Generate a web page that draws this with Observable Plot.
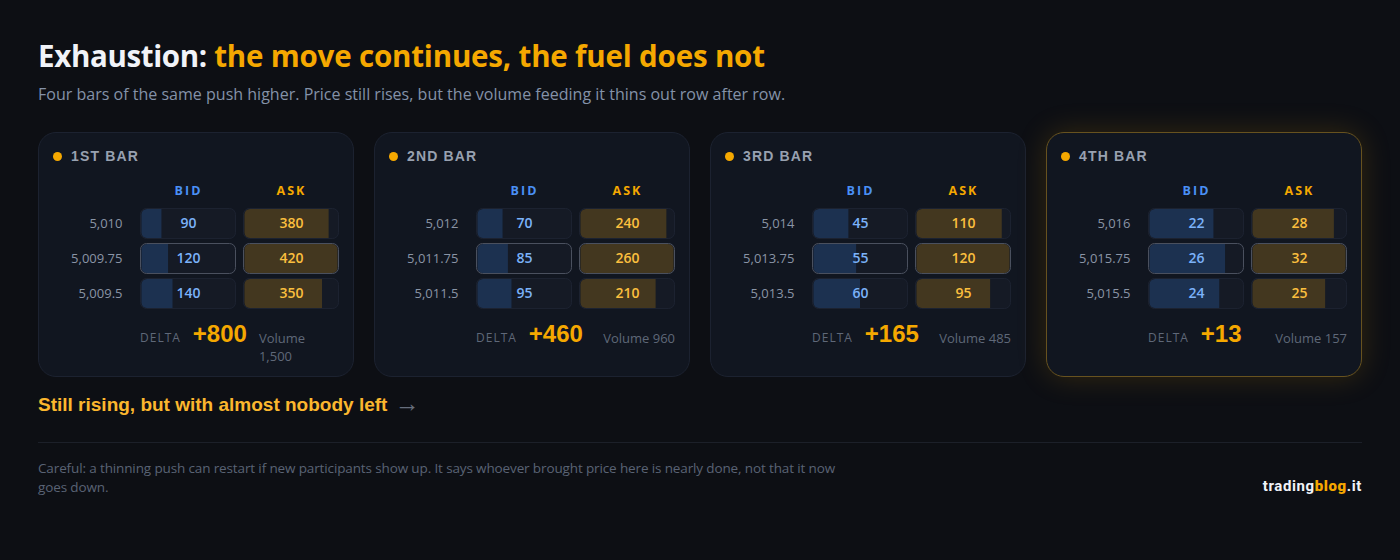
<!DOCTYPE html>
<html lang="en">
<head>
<meta charset="utf-8">
<title>Exhaustion</title>
<script src="https://cdn.jsdelivr.net/npm/d3@7"></script>
<script src="https://cdn.jsdelivr.net/npm/@observablehq/plot@0.6"></script>
<style>
  html, body { margin: 0; padding: 0; background: #0d0f14; width: 1400px; height: 560px; overflow: hidden; }
  body { font-family: "Open Sans", sans-serif; position: relative; }
  h1 { position: absolute; left: 38px; top: 36px; margin: 0; font-size: 29.5px; line-height: 40px; font-weight: 700; color: #f1f3f8; letter-spacing: -0.35px; white-space: nowrap; }
  h1 span { color: #f5a800; letter-spacing: -0.18px; }
  .sub { position: absolute; left: 38px; top: 82px; font-size: 16.05px; line-height: 24px; color: #8492a8; white-space: nowrap; }
  .cards { position: absolute; left: 38px; top: 132px; width: 1324px; display: flex; gap: 20px; align-items: stretch; }
  .card { box-sizing: border-box; width: 316px; height: 245px; padding: 15px; background: #111620; border: 1px solid #1c2230; border-radius: 18px; position: relative; }
  .card.last { border-color: #67521f; box-shadow: 0 0 30px rgba(245,168,0,.17); }
  .head { position: absolute; left: 14px; top: 13px; height: 20px; display: flex; align-items: center; gap: 9px; font: 700 14px "Liberation Sans", sans-serif; letter-spacing: 1.15px; color: #98a1b0; }
  .dot { width: 9px; height: 9px; border-radius: 50%; background: #f5a800; }
  .plot { position: absolute; left: 14px; top: 46px; }
  .foot { position: absolute; left: 101px; right: 14px; top: 186px; display: flex; align-items: flex-start; justify-content: space-between; column-gap: 12px; }
  .dl { font-size: 12px; line-height: 18px; letter-spacing: 1px; color: #5f6878; margin-top: 10px; white-space: nowrap; }
  .dv { font: 700 24px/30px "Liberation Sans", sans-serif; color: #f5a800; white-space: nowrap; }
  .vol { flex: 0 1 auto; font-size: 13px; line-height: 18px; color: #5f6878; margin-top: 10px; min-width: 0; }
  .left { display: flex; column-gap: 12px; flex: none; }
  .take { position: absolute; left: 38px; top: 393px; height: 24px; font: 700 19px/24px "Liberation Sans", sans-serif; color: #fbb72e; white-space: nowrap; }
  .take i { font-style: normal; font-weight: 400; font-size: 25px; line-height: 0; color: #666e7d; margin-left: 2px; vertical-align: -1px; }
  hr { position: absolute; left: 38px; top: 442px; width: 1324px; margin: 0; border: 0; height: 1px; background: #1c2029; }
  .note { position: absolute; left: 38px; top: 459px; width: 820px; font-size: 13.5px; letter-spacing: -0.13px; line-height: 19px; color: #5a6374; }
  .brand { position: absolute; right: 38px; top: 476px; font: 700 15px/20px Roboto, sans-serif; letter-spacing: .6px; color: #f1f3f8; }
  .brand b { color: #f5a800; }
</style>
</head>
<body>
<h1>Exhaustion: <span>the move continues, the fuel does not</span></h1>
<div class="sub">Four bars of the same push higher. Price still rises, but the volume feeding it thins out row after row.</div>
<div class="cards" id="cards"></div>
<div class="take">Still rising, but with almost nobody left <i>→</i></div>
<hr>
<div class="note">Careful: a thinning push can restart if new participants show up. It says whoever brought price here is nearly done, not that it now goes down.</div>
<div class="brand">trading<b>blog</b>.it</div>
<script>
const barNames = ["1ST BAR", "2ND BAR", "3RD BAR", "4TH BAR"];
const sides = ["BID", "ASK"];
const priceLabels = [
  ["5,010", "5,009.75", "5,009.5"],
  ["5,012", "5,011.75", "5,011.5"],
  ["5,014", "5,013.75", "5,013.5"],
  ["5,016", "5,015.75", "5,015.5"]
];
const bidValues = [[90, 120, 140], [70, 85, 95], [45, 55, 60], [22, 26, 24]];
const askValues = [[380, 420, 350], [240, 260, 210], [110, 120, 95], [28, 32, 25]];
const deltaLabels = ["+800", "+460", "+165", "+13"];
const volumeLabels = ["Volume 1,500", "Volume 960", "Volume 485", "Volume 157"];

const C = {
  font: '"Open Sans", sans-serif',
  bidHead: "#4a90f5", askHead: "#f5a800",
  bidFill: "#1c3150", askFill: "#43371f",
  bidText: "#7bb2f9", askText: "#fbbf3e",
  track: "#151a25", edge: "#1c2230", hot: "#4a505e", price: "#8a94a5"
};

const host = document.getElementById("cards");

barNames.forEach((name, i) => {
  const rows = priceLabels[i].flatMap((price, r) => [
    {price, r, side: "BID", value: bidValues[i][r]},
    {price, r, side: "ASK", value: askValues[i][r]}
  ]);
  const max = d3.max(rows, d => d.value);
  const full = rows.filter(d => d.value === max);
  const partial = rows.filter(d => d.value !== max);
  const fillOf = d => d.side === "BID" ? C.bidFill : C.askFill;

  const chart = Plot.plot({
    width: 286, height: 131,
    marginLeft: 87, marginRight: 0, marginTop: 28, marginBottom: 0,
    style: {background: "transparent", fontFamily: C.font, overflow: "visible"},
    x: {axis: null, domain: [0, max], insetLeft: 1.5, insetRight: 1.5},
    fx: {axis: null, domain: sides, paddingInner: 0.068, paddingOuter: 0},
    y: {axis: null, domain: priceLabels[i], paddingInner: 0.115, paddingOuter: 0},
    color: {type: "identity"},
    marks: [
      Plot.axisY(priceLabels[i], {anchor: "left", tickSize: 0, tickPadding: 18, label: null, fontSize: 13, fill: C.price, facetAnchor: "left"}),
      Plot.barX(rows, {fx: "side", y: "price", x1: 0, x2: max, insetLeft: -1.5, insetRight: -1.5, fill: C.track, r: 6.5}),
      Plot.barX(partial, {fx: "side", y: "price", x1: 0, x2: "value", fill: fillOf, rx1: 5.5, rx2: 0, insetTop: 1, insetBottom: 1}),
      Plot.barX(full, {fx: "side", y: "price", x1: 0, x2: "value", fill: fillOf, r: 5.5, insetTop: 1, insetBottom: 1}),
      Plot.barX(rows, {fx: "side", y: "price", x1: 0, x2: max, insetLeft: -1, insetRight: -1, insetTop: .5, insetBottom: .5, fill: "none", stroke: d => d.r === 1 ? C.hot : C.edge, strokeWidth: 1, r: 6}),
      Plot.text(rows, {fx: "side", y: "price", x: () => max / 2, text: "value", fill: d => d.side === "BID" ? C.bidText : C.askText, fontSize: 14, fontWeight: 600}),
      Plot.text(sides, {fx: d => d, text: d => d, frameAnchor: "top", lineAnchor: "bottom", dy: -13, fill: d => d === "BID" ? C.bidHead : C.askHead, fontSize: 12.5, fontWeight: 700})
    ]
  });
  chart.querySelectorAll("text").forEach(t => {
    if (sides.includes(t.textContent.trim())) t.style.letterSpacing = "2px";
  });

  const card = document.createElement("div");
  card.className = "card" + (i === barNames.length - 1 ? " last" : "");
  card.innerHTML = `<div class="head"><span class="dot"></span>${name}</div><div class="plot"></div>
    <div class="foot"><div class="left"><span class="dl">DELTA</span><span class="dv">${deltaLabels[i]}</span></div><span class="vol">${volumeLabels[i]}</span></div>`;
  card.querySelector(".plot").appendChild(chart);
  host.appendChild(card);
});
</script>
</body>
</html>
